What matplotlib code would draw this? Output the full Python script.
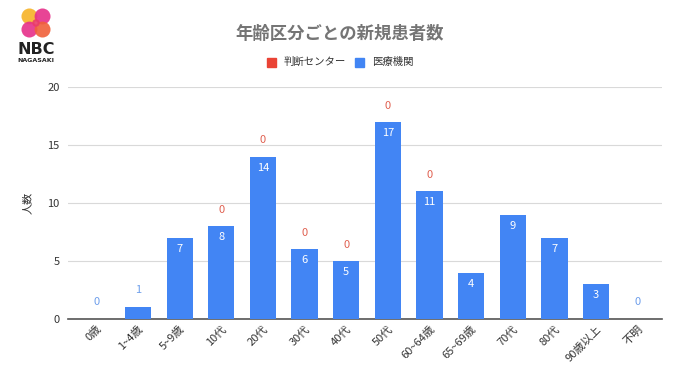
import matplotlib.pyplot as plt
from matplotlib.patches import Circle

plt.rcParams['font.family'] = ['Noto Sans CJK JP', 'DejaVu Sans']

categories = ['0歳', '1~4歳', '5~9歳', '10代', '20代', '30代', '40代', '50代',
              '60~64歳', '65~69歳', '70代', '80代', '90歳以上', '不明']
center = [0, 0, 0, 0, 0, 0, 0, 0, 0, 0, 0, 0, 0, 0]
clinic = [0, 1, 7, 8, 14, 6, 5, 17, 11, 4, 9, 7, 3, 0]
# which red labels the original shows
center_label_shown = [False, False, False, True, True, True, True, True,
                      True, False, False, False, False, False]

blue = '#4285F4'
red = '#EA4335'

fig = plt.figure(figsize=(6.8, 3.82), dpi=100)
ax = fig.add_axes([68 / 680, 1 - 319 / 382, 594 / 680, 232 / 382])

x = range(len(categories))
ax.bar(x, clinic, width=0.63, color=blue, zorder=3)
ax.bar(x, center, width=0.63, bottom=clinic, color=red, zorder=3)

for i, v in enumerate(clinic):
    if v >= 3:
        ax.text(i, v - 0.95, str(v), ha='center', va='center', color='white', fontsize=8, zorder=4)
    else:
        ax.text(i, v + 1.5, str(v), ha='center', va='center', color='#6d9eeb', fontsize=8, zorder=4)
    if center_label_shown[i]:
        ax.text(i, v + center[i] + 1.4, str(center[i]), ha='center', va='center',
                color='#e06050', fontsize=8, zorder=4)

ax.set_ylim(0, 20)
ax.set_xlim(-0.68, 13.58)
ax.set_yticks([0, 5, 10, 15, 20])
ax.grid(axis='y', color='#d9d9d9', linewidth=0.8, zorder=0)
for s in ['top', 'right', 'left']:
    ax.spines[s].set_visible(False)
ax.spines['bottom'].set_color('#555555')
ax.spines['bottom'].set_linewidth(1.2)
ax.tick_params(axis='both', length=0, labelsize=8, colors='#333333')
ax.tick_params(axis='y', pad=6)
ax.set_xticks(list(x))
ax.set_xticklabels(categories, rotation=45, ha='right', rotation_mode='anchor')
ax.set_ylabel('人数', fontsize=8, color='#333333', labelpad=10)

fig.text(340 / 680, 1 - 34 / 382, '年齢区分ごとの新規患者数', ha='center', va='center',
         fontsize=12.5, fontweight='bold', color='#757575')

# legend
fig.patches.append(plt.Rectangle((267 / 680, 1 - 67 / 382), 9 / 680, 9 / 382,
                                 transform=fig.transFigure, color=red))
fig.text(284 / 680, 1 - 62 / 382, '判断センター', fontsize=7.5, va='center', color='#333333')
fig.patches.append(plt.Rectangle((355 / 680, 1 - 67 / 382), 9 / 680, 9 / 382,
                                 transform=fig.transFigure, color=blue))
fig.text(372 / 680, 1 - 62 / 382, '医療機関', fontsize=7.5, va='center', color='#333333')

# logo
logo = fig.add_axes([21 / 680, 1 - 38 / 382, 30 / 680, 30 / 382])
logo.set_xlim(0, 32)
logo.set_ylim(0, 32)
logo.set_aspect('equal')
logo.axis('off')
logo.add_patch(Circle((9, 23), 8.5, color='#f7b731', alpha=0.95, lw=0))
logo.add_patch(Circle((23, 23), 8.5, color='#e6308a', alpha=0.9, lw=0))
logo.add_patch(Circle((9, 9), 8.5, color='#e6308a', alpha=0.9, lw=0))
logo.add_patch(Circle((23, 9), 8.5, color='#f0603a', alpha=0.9, lw=0))
logo.add_patch(Circle((16, 16), 4, color='#ea3b6a', alpha=0.9, lw=0))
fig.text(36 / 680, 1 - 50 / 382, 'NBC', ha='center', va='center', fontsize=11.5,
         fontweight='bold', color='#222222', family='DejaVu Sans')
fig.text(36 / 680, 1 - 61 / 382, 'NAGASAKI', ha='center', va='center', fontsize=4.5,
         fontweight='bold', color='#222222', family='DejaVu Sans')

fig.savefig('out.png', dpi=100)
